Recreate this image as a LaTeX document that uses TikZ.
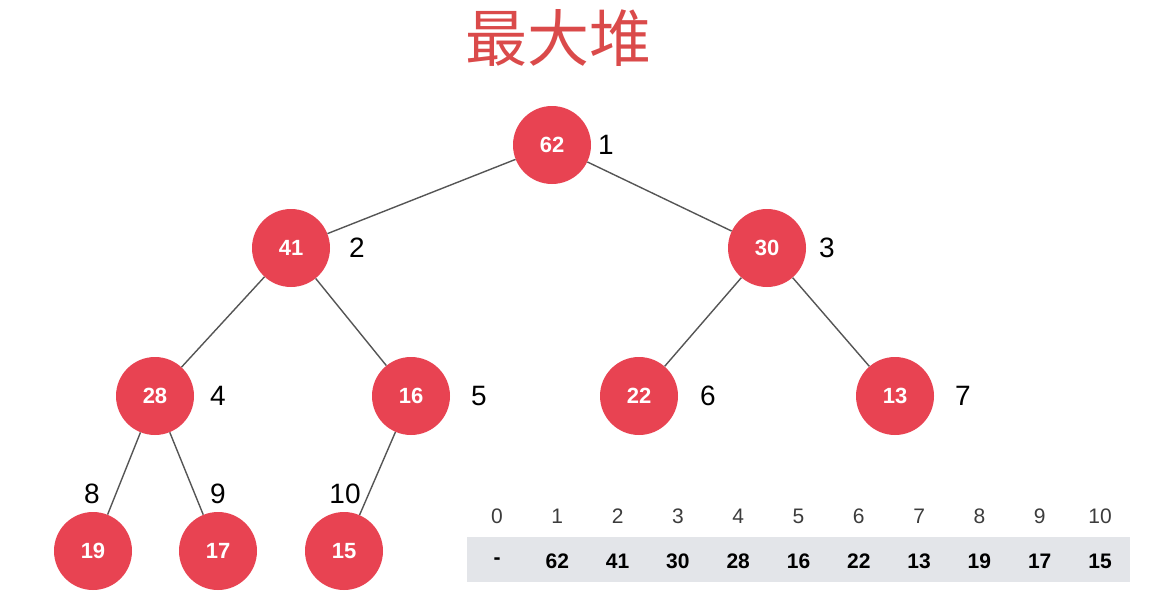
\documentclass[tikz,border=0pt]{standalone}
\usepackage{fontspec}
\setmainfont{Liberation Sans}
\newfontfamily\cjk{Noto Sans CJK SC}
\definecolor{heapred}{RGB}{232,67,82}
\definecolor{titlered}{RGB}{218,74,74}
\definecolor{edgegray}{RGB}{85,85,85}
\definecolor{cellgray}{RGB}{227,229,233}
\definecolor{idxgray}{RGB}{60,60,60}
\begin{document}
\begin{tikzpicture}[x=1pt,y=-1pt,
  heapnode/.style={circle,fill=heapred,minimum size=78pt,inner sep=0pt,text=white,font=\fontsize{22}{24}\selectfont\bfseries},
  idxlabel/.style={font=\fontsize{28}{30}\selectfont,text=black,inner sep=0pt},
  edge/.style={draw=edgegray,line width=1.4pt},
  arridx/.style={font=\fontsize{21}{23}\selectfont,text=idxgray,inner sep=0pt},
  arrval/.style={font=\fontsize{21}{23}\selectfont\bfseries,text=black,inner sep=0pt}]
\useasboundingbox (0,0) rectangle (1150,597);
\node[font=\cjk\fontsize{62}{64}\selectfont,text=titlered] (title) at (558,38) {最大堆};
% heap nodes
\node[heapnode] (n1) at (552,145) {62};
\node[heapnode] (n2) at (291,248) {41};
\node[heapnode] (n3) at (767,248) {30};
\node[heapnode] (n4) at (155,396) {28};
\node[heapnode] (n5) at (411,396) {16};
\node[heapnode] (n6) at (639,396) {22};
\node[heapnode] (n7) at (895,396) {13};
\node[heapnode] (n8) at (93,551) {19};
\node[heapnode] (n9) at (218,551) {17};
\node[heapnode] (n10) at (344,551) {15};
% edges
\draw[edge] (n1) -- (n2);
\draw[edge] (n1) -- (n3);
\draw[edge] (n2) -- (n4);
\draw[edge] (n2) -- (n5);
\draw[edge] (n3) -- (n6);
\draw[edge] (n3) -- (n7);
\draw[edge] (n4) -- (n8);
\draw[edge] (n4) -- (n9);
\draw[edge] (n5) -- (n10);
% index labels
\node[idxlabel] (l1) at (606,145) {1};
\node[idxlabel] (l2) at (357,248) {2};
\node[idxlabel] (l3) at (827,248) {3};
\node[idxlabel] (l4) at (218,396) {4};
\node[idxlabel] (l5) at (479,396) {5};
\node[idxlabel] (l6) at (708,396) {6};
\node[idxlabel] (l7) at (963,396) {7};
\node[idxlabel] (l8) at (92,494) {8};
\node[idxlabel] (l9) at (218,494) {9};
\node[idxlabel] (l10) at (345,494) {10};
% array
\node[fill=cellgray,minimum width=663pt,minimum height=45pt,inner sep=0pt] (arr) at (798.5,559.5) {};
\foreach \i/\v [count=\k from 0] in {0/-,1/62,2/41,3/30,4/28,5/16,6/22,7/13,8/19,9/17,10/15}{
  \node[arridx] (i\k) at (497+60.3*\k,516) {\i};
  \node[arrval] (v\k) at (497+60.3*\k,561) {\v};
}
\end{tikzpicture}
\end{document}
